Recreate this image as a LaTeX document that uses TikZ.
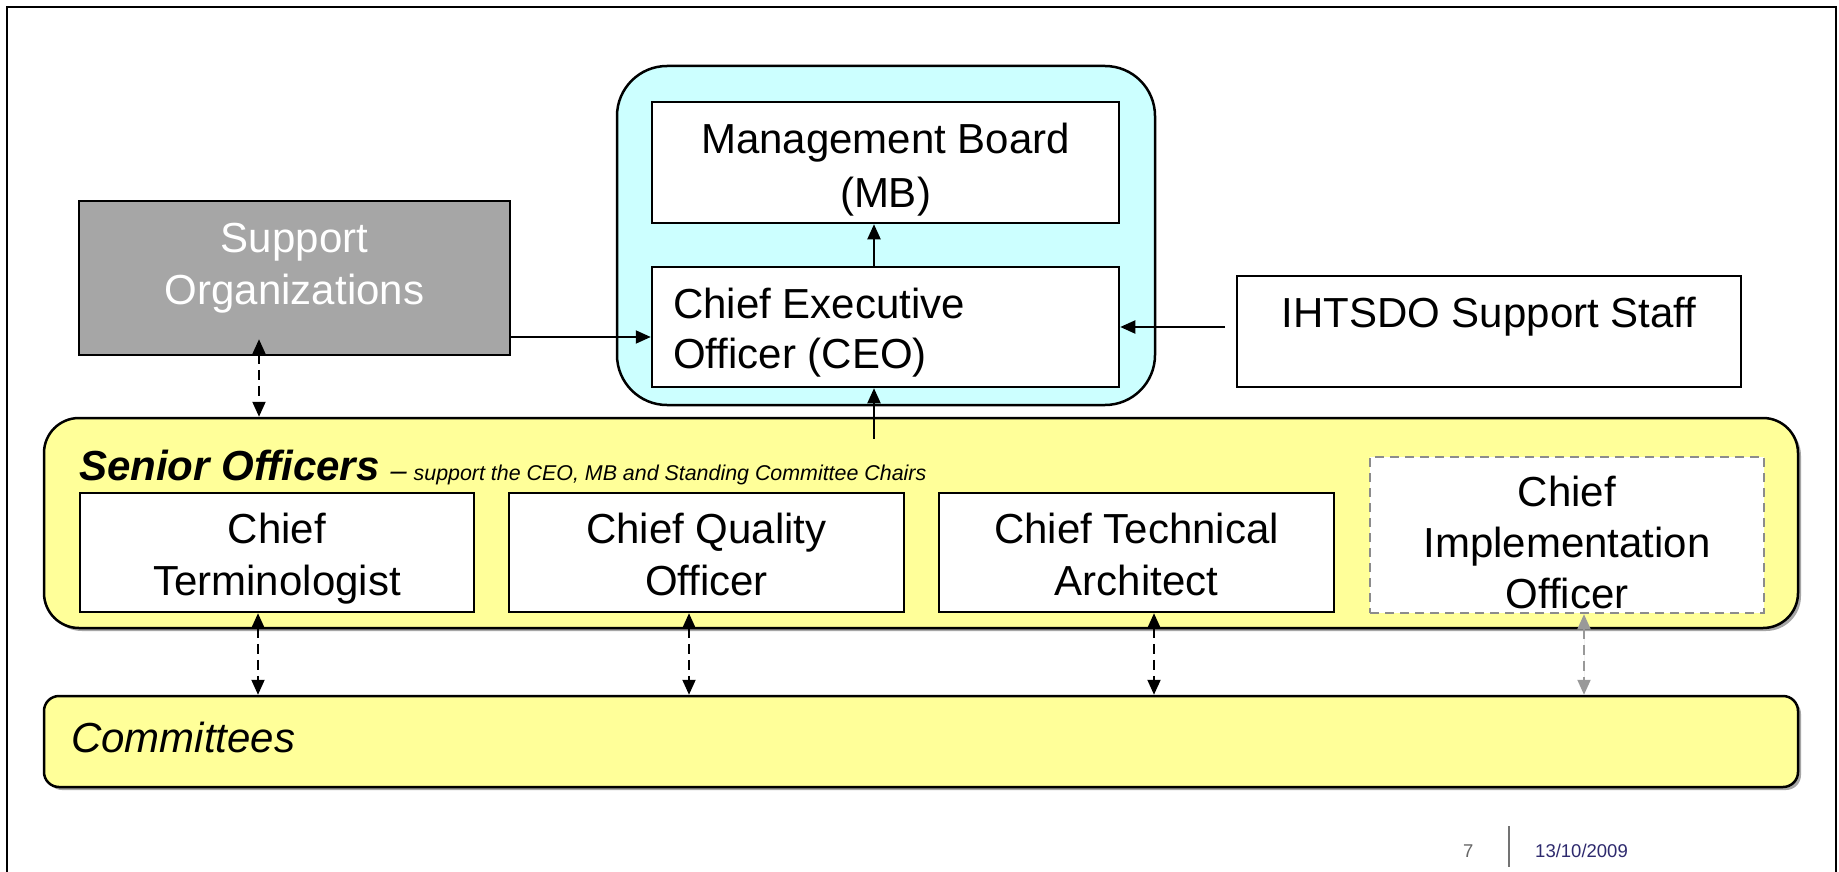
\documentclass[tikz,border=0pt]{standalone}
\usepackage{fontspec}
\setmainfont{Liberation Sans}
\usetikzlibrary{arrows.meta}
\definecolor{cyanfill}{HTML}{CCFFFF}
\definecolor{yelfill}{HTML}{FFFF99}
\definecolor{orgfill}{HTML}{A6A6A6}
\definecolor{navytxt}{HTML}{2E2A6E}
\definecolor{dashgray}{HTML}{8C8C8C}
\definecolor{arrgray}{HTML}{999999}
\begin{document}
\begin{tikzpicture}[x=1pt,y=-1pt,
  box/.style={draw=black, line width=2.5pt, fill=white, inner sep=0pt},
  txt/.style={font=\fontsize{42}{52}\selectfont, inner sep=0pt, align=center, anchor=base},
  tip/.tip={Triangle[length=15pt,width=13pt]},
  conn/.style={line width=2pt, -tip},
  dconn/.style={line width=2pt, dash pattern=on 10pt off 6pt, tip-tip},
  shadowbox/.style={fill=black!35, draw=none}
]
\useasboundingbox (0,0) rectangle (1839,872);
\fill[white] (0,0) rectangle (1839,872);
\draw[line width=2.5pt] (7,872) -- (7,7) -- (1836,7) -- (1836,872);

% CEO group
\node[box, fill=cyanfill, rounded corners=50pt, minimum width=538pt, minimum height=339pt] (grp) at (886,235.5) {};
\node[box, minimum width=467pt, minimum height=121pt] (mb) at (885.5,162.5) {};
\node[box, minimum width=467pt, minimum height=120pt] (ceo) at (885.5,327) {};
\node[txt, font=\fontsize{42}{54}\selectfont] (mbt) at (885.5,207) {Management Board\\(MB)};
\node[txt, font=\fontsize{42}{50}\selectfont, anchor=base west, align=left] (ceot) at (673,368) {Chief Executive\\Officer (CEO)};

% Support organizations
\node[box, fill=orgfill, minimum width=431pt, minimum height=154pt] (so) at (294.5,278) {};
\node[txt, text=white] (sot) at (294.5,304) {Support\\Organizations};

% IHTSDO support staff
\node[box, line width=2pt, minimum width=504pt, minimum height=111pt] (ih) at (1489,331.5) {};
\node[txt] (iht) at (1489,327) {IHTSDO Support Staff};

% Senior officers
\fill[shadowbox, rounded corners=35pt] (47,421) rectangle (1801,631);
\node[box, fill=yelfill, rounded corners=35pt, minimum width=1754pt, minimum height=210pt] (sen) at (921,523) {};
\node[inner sep=0pt, anchor=base west] (sent) at (79,480)
  {{\fontsize{42}{52}\selectfont\bfseries\itshape Senior Officers}\hspace{11pt}{\fontsize{29}{34}\selectfont\itshape –}\hspace{7pt}{\fontsize{21.4}{26}\selectfont\itshape support the CEO, MB and Standing Committee Chairs}};

\node[box, minimum width=394pt, minimum height=119pt] (ct) at (277,552.5) {};
\node[txt] (ctt) at (277,595) {Chief\\Terminologist};
\node[box, minimum width=395pt, minimum height=119pt] (cqo) at (706.5,552.5) {};
\node[txt] (cqot) at (706.5,595) {Chief Quality\\Officer};
\node[box, minimum width=395pt, minimum height=119pt] (cta) at (1136.5,552.5) {};
\node[txt] (ctat) at (1136.5,595) {Chief Technical\\Architect};
\node[box, draw=dashgray, dash pattern=on 9pt off 6pt, minimum width=394pt, minimum height=156pt] (cio) at (1567,535) {};
\node[txt, font=\fontsize{42}{51}\selectfont] (ciot) at (1567,608) {Chief\\Implementation\\Officer};

% Committees
\fill[shadowbox, rounded corners=15pt] (47,699) rectangle (1801,790);
\node[box, fill=yelfill, rounded corners=15pt, minimum width=1754pt, minimum height=91pt] (com) at (921,741.5) {};
\node[txt, anchor=base west, font=\fontsize{42}{52}\selectfont\itshape] (comt) at (71,752) {Committees};

% helper coordinates for connector positions
\coordinate (xso) at (259,0);
\coordinate (xceo) at (874,0);
\coordinate (yso) at (0,337);
\coordinate (xct) at (258,0);
\coordinate (xcqo) at (689,0);
\coordinate (xcta) at (1154,0);
\coordinate (xcio) at (1584,0);

% connectors
\draw[conn] (ceo.north -| xceo) -- (mb.south -| xceo);
\draw[conn] ([yshift=-22pt]sen.north -| xceo) -- (ceo.south -| xceo);
\draw[conn] (so.east |- yso) -- (ceo.west |- yso);
\draw[conn, shorten <=11pt] (ih.west |- ceo.east) -- (ceo.east);
\draw[dconn] ([yshift=17pt]so.south -| xso) -- (sen.north -| xso);
\draw[dconn] (ct.south -| xct) -- (com.north -| xct);
\draw[dconn] (cqo.south -| xcqo) -- (com.north -| xcqo);
\draw[dconn] (cta.south -| xcta) -- (com.north -| xcta);
\draw[dconn, draw=arrgray, fill=arrgray] (cio.south -| xcio) -- (com.north -| xcio);

% footer
\node[inner sep=0pt, anchor=base west, text=black!60, font=\fontsize{18.5}{22}\selectfont] (pg) at (1463,857) {7};
\coordinate (sepa) at (1509,826);
\coordinate (sepb) at (1509,867);
\draw[line width=2.5pt, black!55] (sepa) -- (sepb);
\node[inner sep=0pt, anchor=base west, text=navytxt, font=\fontsize{18.5}{22}\selectfont] (date) at (1535,857) {13/10/2009};
\end{tikzpicture}
\end{document}
